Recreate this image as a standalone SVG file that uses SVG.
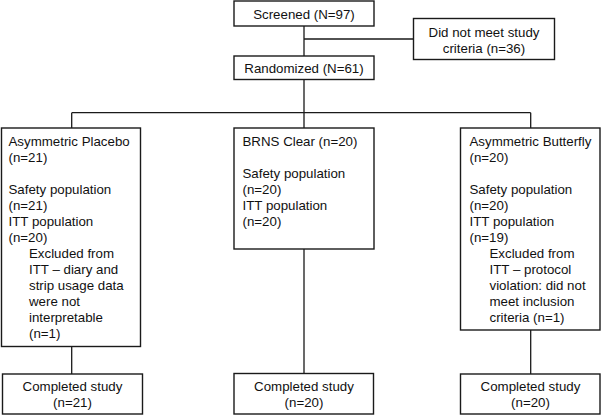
<svg xmlns="http://www.w3.org/2000/svg" width="602" height="415" viewBox="0 0 602 415">
<style>
.box{fill:#fff;stroke:#1a1a1a;stroke-width:1.4}
.ln{fill:none;stroke:#1a1a1a;stroke-width:1.3}
text{font-family:"Liberation Sans",Arial,sans-serif;font-size:13.3px;fill:#111}
.c{text-anchor:middle}
</style>
<rect width="602" height="415" fill="#fff"/>
<g id="connectors">
<path class="ln" d="M304,26 V56 M304,39 H413.5 M304,79.5 V112.7 M71.7,112.7 H530.7 M71.7,112.7 V128 M304,112.7 V128 M530.7,112.7 V128 M71.7,346.5 V374 M304,249 V373.5 M530.7,330 V374"/>
</g>
<g id="screened">
<rect class="box" x="234" y="1" width="140" height="25"/>
<text class="c" x="304" y="19">Screened (N=97)</text>
</g>
<g id="excluded">
<rect class="box" x="413.5" y="18.5" width="141" height="41"/>
<text class="c" x="484" y="37">Did not meet study</text>
<text class="c" x="484" y="52.5">criteria (n=36)</text>
</g>
<g id="randomized">
<rect class="box" x="234" y="56" width="140" height="23.5"/>
<text class="c" x="304" y="72.5">Randomized (N=61)</text>
</g>
<g id="placebo">
<rect class="box" x="1.5" y="128" width="139" height="218.5"/>
<text x="8.5" y="145.5">Asymmetric Placebo</text>
<text x="8.5" y="161.5">(n=21)</text>
<text x="8.5" y="193.5">Safety population</text>
<text x="8.5" y="209.5">(n=21)</text>
<text x="8.5" y="225.5">ITT population</text>
<text x="8.5" y="241.5">(n=20)</text>
<text x="29" y="257.5">Excluded from</text>
<text x="29" y="273.5">ITT – diary and</text>
<text x="29" y="289.5">strip usage data</text>
<text x="29" y="305.5">were not</text>
<text x="29" y="321.5">interpretable</text>
<text x="29" y="337.5">(n=1)</text>
</g>
<g id="brns">
<rect class="box" x="234" y="128" width="140" height="121"/>
<text x="242.5" y="145.5">BRNS Clear (n=20)</text>
<text x="242.5" y="177.5">Safety population</text>
<text x="242.5" y="193.5">(n=20)</text>
<text x="242.5" y="209.5">ITT population</text>
<text x="242.5" y="225.5">(n=20)</text>
</g>
<g id="butterfly">
<rect class="box" x="460.5" y="128" width="139.5" height="202"/>
<text x="469.5" y="145.5">Asymmetric Butterfly</text>
<text x="469.5" y="161.5">(n=20)</text>
<text x="469.5" y="193.5">Safety population</text>
<text x="469.5" y="209.5">(n=20)</text>
<text x="469.5" y="225.5">ITT population</text>
<text x="469.5" y="241.5">(n=19)</text>
<text x="489.5" y="257.5">Excluded from</text>
<text x="489.5" y="273.5">ITT – protocol</text>
<text x="489.5" y="289.5">violation: did not</text>
<text x="489.5" y="305.5">meet inclusion</text>
<text x="489.5" y="321.5">criteria (n=1)</text>
</g>
<g id="completed-placebo">
<rect class="box" x="2.5" y="374" width="140" height="40"/>
<text class="c" x="72.5" y="391">Completed study</text>
<text class="c" x="72.5" y="406.5">(n=21)</text>
</g>
<g id="completed-brns">
<rect class="box" x="234" y="373.5" width="139.5" height="40.5"/>
<text class="c" x="304" y="391">Completed study</text>
<text class="c" x="304" y="406.5">(n=20)</text>
</g>
<g id="completed-butterfly">
<rect class="box" x="460.5" y="374" width="139.5" height="40"/>
<text class="c" x="530.5" y="391">Completed study</text>
<text class="c" x="530.5" y="406.5">(n=20)</text>
</g>
</svg>
